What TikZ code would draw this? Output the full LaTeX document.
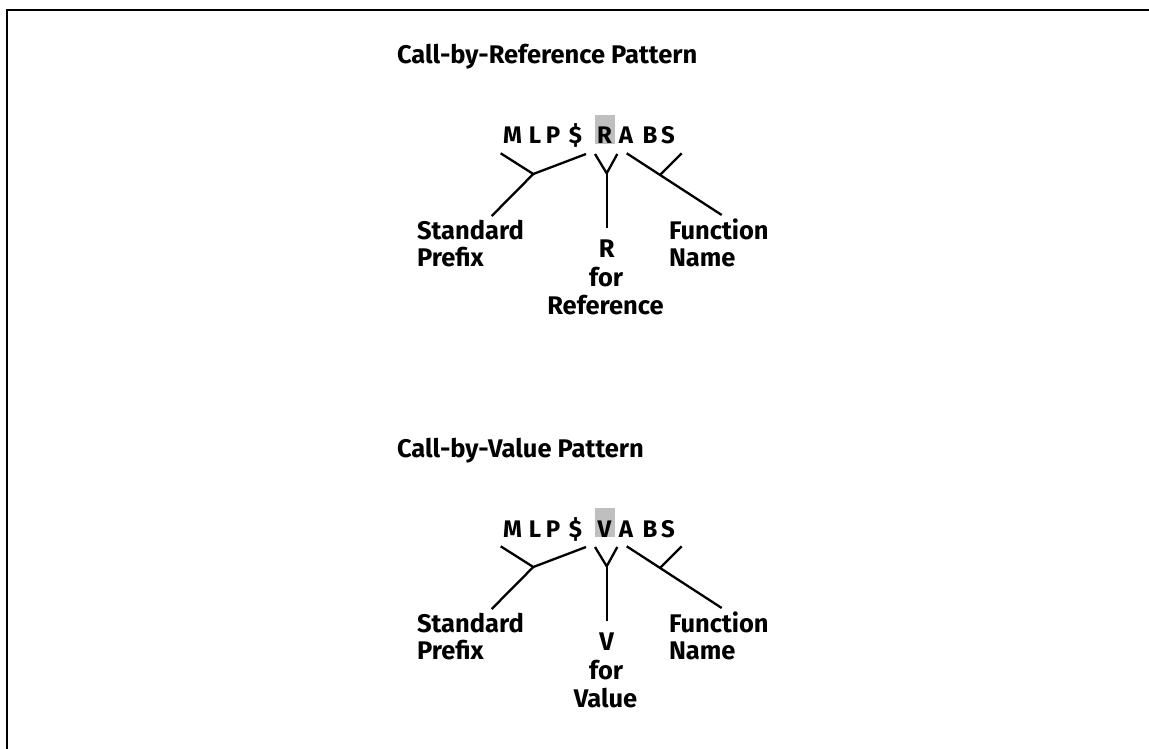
\documentclass[tikz,border=0pt]{standalone}
\usepackage{fontspec}
\setmainfont{Fira Sans}
\tikzset{
  lbl/.style={inner sep=0pt, outer sep=0pt, font=\fontsize{25.5}{30}\selectfont\bfseries},
  ttl/.style={inner sep=0pt, outer sep=0pt, font=\fontsize{25.5}{30}\selectfont\bfseries},
  glyph/.style={inner sep=0pt, outer sep=0pt, anchor=base, font=\fontsize{24}{28}\selectfont\bfseries},
  shadebox/.style={fill=gray!50, draw=none, inner sep=0pt, minimum width=20pt, minimum height=29pt},
  brace/.style={line width=2.3pt, line join=miter},
  frame/.style={line width=2pt}
}
\newcommand\drawpattern[5]{%
\begin{scope}[shift={(0,#2)}]
  \node[ttl, anchor=base west] (#1title) at (397,64) {#3};
  \node[shadebox] (#1box) at (605,129.5) {};
  \foreach \ch/\cx [count=\i] in {M/512.5,L/535,P/553,\$/575.5,#4/604.5,A/626,B/650,S/668}
    \node[glyph] (#1g\i) at (\cx,144) {\ch};
  % left bracket: Standard Prefix
  \coordinate (#1la) at (500.7,153.3);
  \coordinate (#1lb) at (586,154);
  \coordinate (#1lj) at (533.3,174);
  \coordinate (#1ls) at (491.7,216);
  \draw[brace] (#1la) -- (#1lj) -- (#1lb);
  \draw[brace] (#1lj) -- (#1ls);
  % middle Y
  \coordinate (#1ma) at (595,154);
  \coordinate (#1mb) at (617.3,154);
  \coordinate (#1mj) at (606.7,173.3);
  \coordinate (#1ms) at (606.7,228.3);
  \draw[brace] (#1ma) -- (#1mj) -- (#1mb);
  \draw[brace] (#1mj) -- (#1ms);
  % right bracket: Function Name
  \coordinate (#1ra) at (626.7,153.3);
  \coordinate (#1rs) at (721.7,215);
  \coordinate (#1rj) at (660,174.9);
  \coordinate (#1rb) at (681.7,153.3);
  \draw[brace] (#1ra) -- (#1rs);
  \draw[brace] (#1rj) -- (#1rb);
  % labels
  \node[lbl, anchor=base west] (#1std) at (417,239) {Standard};
  \node[lbl, anchor=base west] (#1pre) at (417,266.7) {Prefix};
  \node[lbl, anchor=base] (#1let) at (606.7,257.5) {#4};
  \node[lbl, anchor=base] (#1for) at (606.2,286) {for};
  \node[lbl, anchor=base] (#1word) at (605.5,314.5) {#5};
  \node[lbl, anchor=base west] (#1fun) at (669,239) {Function};
  \node[lbl, anchor=base west] (#1nam) at (669,266.7) {Name};
\end{scope}}
\begin{document}
\begin{tikzpicture}[x=1pt, y=-1pt]
  \useasboundingbox (0,0) rectangle (1149,749);
  \coordinate (fr) at (1149,10);
  \coordinate (fc) at (7,10);
  \coordinate (fb) at (7,749);
  \draw[frame] (fr) -- (fc) -- (fb);
  \drawpattern{a}{0}{Call-by-Reference Pattern}{R}{Reference}
  \drawpattern{b}{393}{Call-by-Value Pattern}{V}{Value}
\end{tikzpicture}
\end{document}
